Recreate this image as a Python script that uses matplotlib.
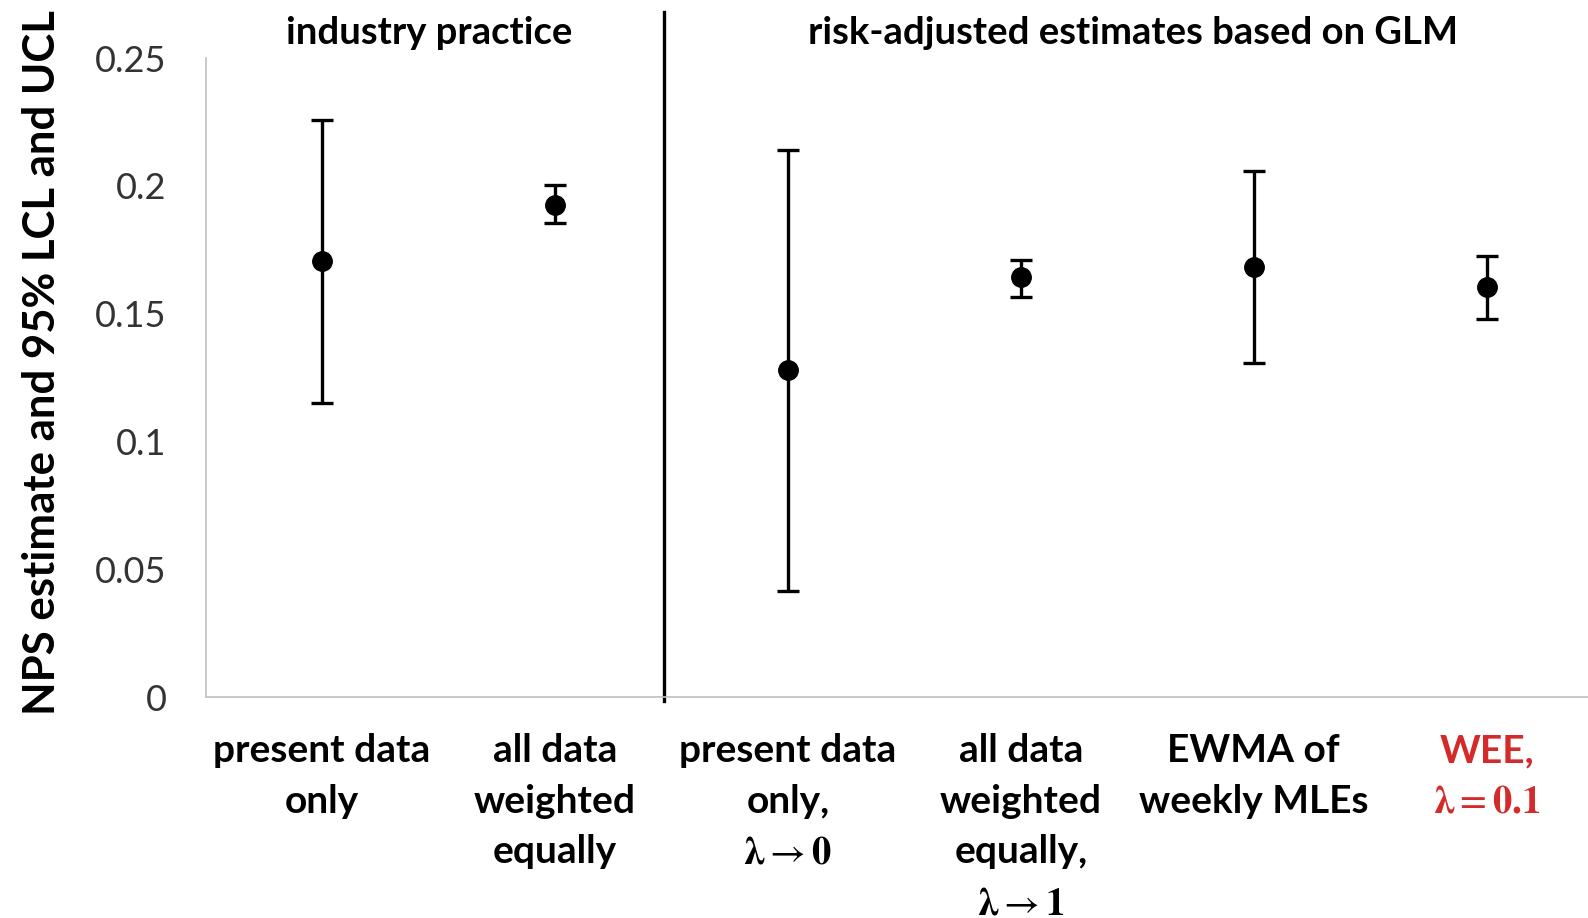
import matplotlib
matplotlib.use("Agg")
import matplotlib.pyplot as plt
import numpy as np

# NPS estimates with 95% LCL / UCL
categories = [
    "present data\nonly",
    "all data\nweighted\nequally",
    "present data\nonly,\n$\\boldsymbol{\\lambda}\\rightarrow\\mathbf{0}$",
    "all data\nweighted\nequally,\n$\\boldsymbol{\\lambda}\\rightarrow\\mathbf{1}$",
    "EWMA of\nweekly MLEs",
    "WEE,\n$\\boldsymbol{\\lambda}=\\mathbf{0.1}$",
]
estimate = [0.1706, 0.1927, 0.1280, 0.1643, 0.1682, 0.1603]
lcl = [0.1149, 0.1856, 0.0415, 0.1564, 0.1307, 0.1481]
ucl = [0.2259, 0.2002, 0.2140, 0.1710, 0.2058, 0.1726]
groups = ["industry practice", "risk-adjusted estimates based on GLM"]
group_centers = [0.46, 3.48]
yticks = [0, 0.05, 0.1, 0.15, 0.2, 0.25]
ytick_labels = ["0", "0.05", "0.1", "0.15", "0.2", "0.25"]

plt.rcParams['font.family'] = ['Lato', 'DejaVu Sans']
plt.rcParams['mathtext.fontset'] = 'stix'

fig = plt.figure(figsize=(15.88, 9.18), dpi=100)
ax = fig.add_axes([0.1295, 0.2407, 0.880, 0.696])

x = np.arange(len(categories))
est = np.array(estimate)
yerr = np.vstack([est - np.array(lcl), np.array(ucl) - est])
ax.errorbar(x, est, yerr=yerr, fmt='o', color='black', ms=14,
            elinewidth=2.4, capsize=8, capthick=2.4)

ax.set_xlim(-0.5, len(categories) - 0.5)
ax.set_ylim(0, 0.25)
ax.set_yticks(yticks)
ax.set_yticklabels(ytick_labels, fontsize=26, color='#333333')
ax.set_xticks(x)
ax.set_xticklabels(categories, fontsize=28, fontweight='bold', linespacing=1.54)
ax.get_xticklabels()[-1].set_color('#d42a2a')
ax.tick_params(axis='both', length=0)
ax.tick_params(axis='x', pad=26)
ax.tick_params(axis='y', pad=28)

for side in ['top', 'right']:
    ax.spines[side].set_visible(False)
for side in ['left', 'bottom']:
    ax.spines[side].set_color('#c0c0c0')
    ax.spines[side].set_linewidth(1.2)

# separator between the two groups
ax.plot([1.47, 1.47], [-0.0016, 0.268], color='black', lw=2.4, clip_on=False)

for name, cx in zip(groups, group_centers):
    ax.text(cx, 0.260, name, ha='center', va='center', fontsize=27.5,
            fontweight='bold', clip_on=False)

ax.set_ylabel("NPS estimate and 95% LCL and UCL", fontsize=31.5,
              fontweight='bold')
ax.yaxis.set_label_coords(-0.1028, 0.523)

fig.savefig("out.png", dpi=100)
